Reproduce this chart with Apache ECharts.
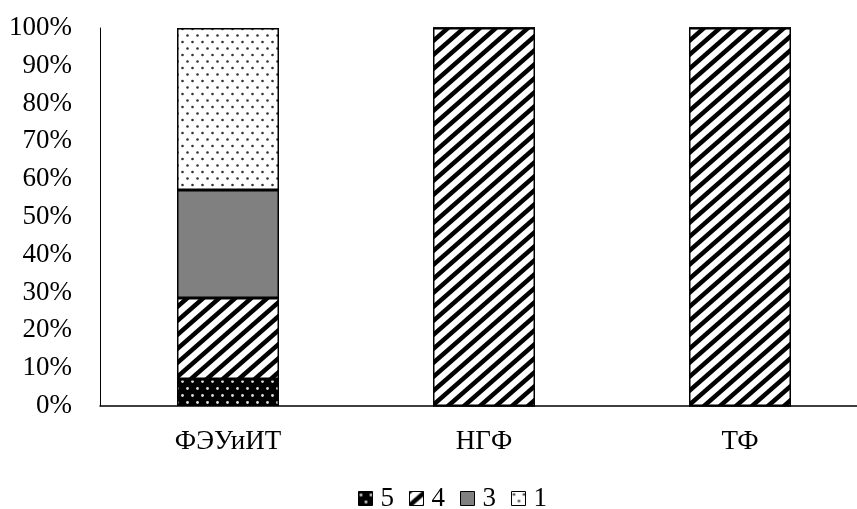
<!DOCTYPE html>
<html><head><meta charset="utf-8">
<script src="https://cdn.jsdelivr.net/npm/echarts@6/dist/echarts.min.js"></script>
<style>html,body{margin:0;padding:0;background:#fff}#c{width:857px;height:509px}</style>
</head><body><div id="c"></div>
<script>
var categories = ['ФЭУиИТ', 'НГФ', 'ТФ'];
var seriesNames = ['5', '4', '3', '1'];
var s5 = [7.14, 0, 0];
var s4 = [21.43, 100, 100];
var s3 = [28.57, 0, 0];
var s1 = [42.86, 0, 0];
var yTicks = [0, 10, 20, 30, 40, 50, 60, 70, 80, 90, 100];

function mk(w, h, fn) { var c = document.createElement('canvas'); c.width = w; c.height = h; var x = c.getContext('2d'); fn(x, w, h); return { image: c, repeat: 'repeat' }; }
var pDark = mk(10, 14, function (x, w, h) {
  x.fillStyle = '#000'; x.fillRect(0, 0, w, h);
  x.fillStyle = '#ddd';
  x.beginPath(); x.arc(2.5, 3.5, 1.4, 0, Math.PI * 2); x.fill();
  x.beginPath(); x.arc(7.5, 10.5, 1.4, 0, Math.PI * 2); x.fill();
});
var pStripe = mk(16, 14, function (x, w, h) {
  x.fillStyle = '#fff'; x.fillRect(0, 0, w, h);
  x.strokeStyle = '#000'; x.lineWidth = 4.5;
  for (var o = -16; o <= 16; o += 16) { x.beginPath(); x.moveTo(o - 2, h + 1.75); x.lineTo(o + w + 2, -1.75); x.stroke(); }
});
var pLight = mk(10, 13, function (x, w, h) {
  x.fillStyle = '#fff'; x.fillRect(0, 0, w, h);
  x.fillStyle = '#333';
  x.beginPath(); x.arc(2.5, 3, 1.3, 0, Math.PI * 2); x.fill();
  x.beginPath(); x.arc(7.5, 9.5, 1.3, 0, Math.PI * 2); x.fill();
});
var fills = [pDark, pStripe, '#808080', pLight];
var datas = [s5, s4, s3, s1];

var font = '"Liberation Serif", "Times New Roman", serif';
var series = datas.map(function (d, i) {
  return {
    name: seriesNames[i], type: 'bar', stack: 'a', data: d, barWidth: 102,
    itemStyle: { color: fills[i], borderColor: '#000', borderWidth: 1.5 },
    emphasis: { disabled: true }
  };
});
var chart = echarts.init(document.getElementById('c'));
chart.setOption({
  animation: false,
  grid: { left: 100, width: 768, top: 28, height: 378, outerBoundsMode: 'none', containLabel: false },
  xAxis: {
    type: 'category', data: categories,
    axisLine: { lineStyle: { color: '#000', width: 1.5 } },
    axisTick: { show: false },
    axisLabel: { color: '#000', fontFamily: font, fontSize: 27, margin: 22 }
  },
  yAxis: {
    type: 'value', min: 0, max: 100, interval: 10,
    axisLine: { show: true, lineStyle: { color: '#000', width: 1 } },
    axisTick: { show: false },
    splitLine: { show: false },
    axisLabel: { color: '#000', fontFamily: font, fontSize: 27, margin: 28,
      formatter: function (v) { return yTicks.indexOf(v) >= 0 ? v + '%' : ''; } }
  },
  legend: {
    top: 480, left: 353, icon: 'rect', itemWidth: 14, itemHeight: 14, itemGap: 15,
    textStyle: { color: '#000', fontFamily: font, fontSize: 27, lineHeight: 27, padding: [0, 0, 0, 3] },
    itemStyle: { borderColor: '#000', borderWidth: 1 },
    data: seriesNames
  },
  series: series
});
</script></body></html>
